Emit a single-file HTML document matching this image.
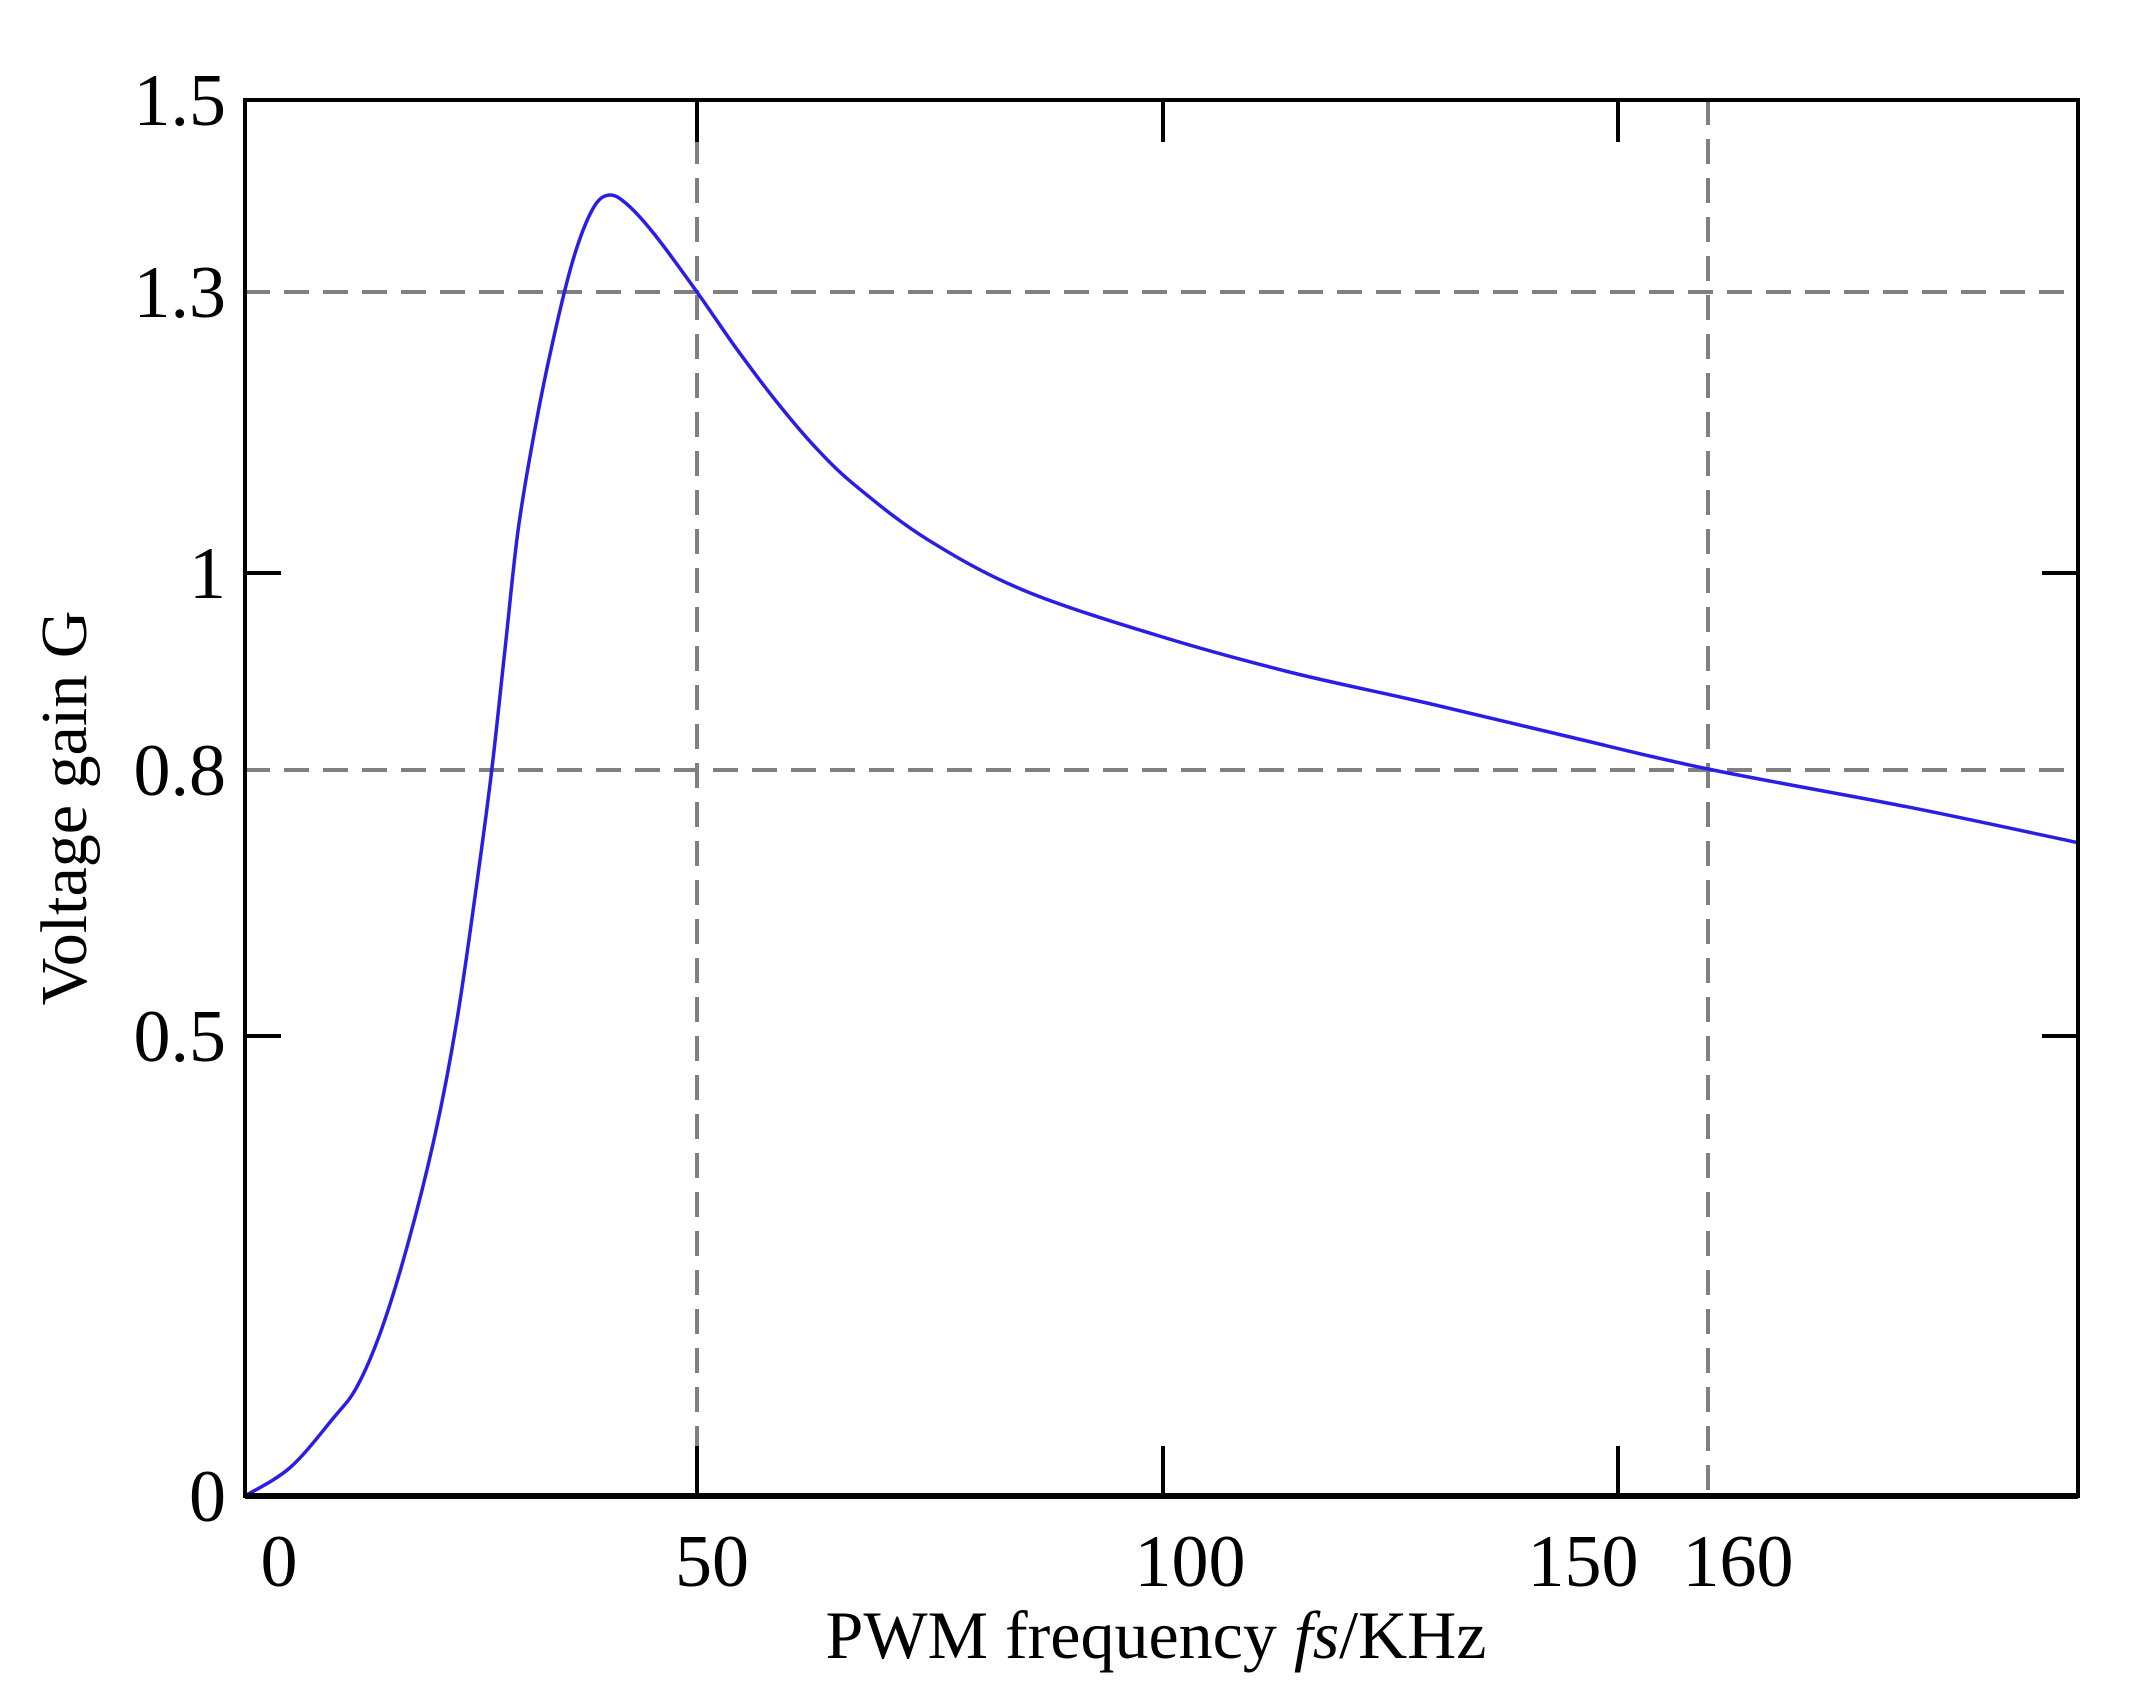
<!DOCTYPE html>
<html><head><meta charset="utf-8"><style>
html,body{margin:0;padding:0;background:#fff;}
svg{display:block;}
text{font-family:"Liberation Serif",serif;fill:#000;}
</style></head><body>
<svg id="chart" width="2136" height="1704" viewBox="0 0 2136 1704" xmlns="http://www.w3.org/2000/svg"></svg>
<script>
const freqs = [0,5.0,9.8,12.4,15.1,18.1,21.1,23.4,25.4,27.2,28.7,30.2,32.0,34.0,36.3,38.5,40.3,42.3,45.3,50,54.2,58.6,63.0,67.4,74.7,84.9,99.6,114.1,129.0,144.5,160,182.3,201];
const gains = [0,0.031,0.085,0.119,0.181,0.277,0.396,0.515,0.654,0.792,0.917,1.045,1.15,1.245,1.334,1.387,1.401,1.391,1.36,1.3,1.240,1.182,1.131,1.090,1.036,0.983,0.936,0.899,0.868,0.834,0.801,0.758,0.718];
const xTicks = [0,50,100,150,160];
const xTickLabels = ["0","50","100","150","160"];
const yTicks = [0,0.5,0.8,1,1.3,1.5];
const yTickLabels = ["0","0.5","0.8","1","1.3","1.5"];
const xRefLines = [50,160];
const yRefLines = [0.8,1.3];

const L=245,R=2078,T=100,B=1496;
const xk=[0,50,100,150,160,201], xp=[245,697,1163,1618,1708,2078];
const yk=[0,0.5,0.8,1,1.3,1.5], yp=[1496,1036,770,573,292,100];
function interp(v,ks,ps){
  let i=0; while(i<ks.length-2 && v>ks[i+1]) i++;
  return ps[i]+(v-ks[i])*(ps[i+1]-ps[i])/(ks[i+1]-ks[i]);
}
const X=v=>interp(v,xk,xp), Y=v=>interp(v,yk,yp);
const svg=document.getElementById('chart');
const NS='http://www.w3.org/2000/svg';
function mk(tag,attrs,parent){const e=document.createElementNS(NS,tag);for(const k in attrs)e.setAttribute(k,attrs[k]);(parent||svg).appendChild(e);return e;}

yRefLines.forEach(v=>{
  const l=mk('line',{x1:L,x2:R,y1:Y(v),y2:Y(v),stroke:'#808080','stroke-width':4,'stroke-dasharray':'25 14'});
  
  
});
xRefLines.forEach(v=>{
  const l=mk('line',{x1:X(v),x2:X(v),y1:T,y2:B,stroke:'#808080','stroke-width':4,'stroke-dasharray':'25 14'});
  
  
});

const pts=freqs.map((f,i)=>[X(f),Y(gains[i])]);
let d='M'+pts[0][0].toFixed(1)+' '+pts[0][1].toFixed(1);
for(let i=0;i<pts.length-1;i++){
  const p0=pts[Math.max(i-1,0)],p1=pts[i],p2=pts[i+1],p3=pts[Math.min(i+2,pts.length-1)];
  const c1=[p1[0]+(p2[0]-p0[0])/6,p1[1]+(p2[1]-p0[1])/6];
  const c2=[p2[0]-(p3[0]-p1[0])/6,p2[1]-(p3[1]-p1[1])/6];
  d+=' C'+c1[0].toFixed(1)+' '+c1[1].toFixed(1)+' '+c2[0].toFixed(1)+' '+c2[1].toFixed(1)+' '+p2[0].toFixed(1)+' '+p2[1].toFixed(1);
}
const curve=mk('path',{d:d,fill:'none',stroke:'#2a1ee6','stroke-width':3.5,'stroke-linejoin':'round'});



const fr=mk('rect',{x:L,y:T,width:R-L,height:B-T,fill:'none',stroke:'#000','stroke-width':4});


const bl=mk('line',{x1:L,x2:R,y1:B,y2:B,stroke:'#000','stroke-width':6});



[50,100,150].forEach(v=>{
  const t1=mk('line',{x1:X(v),x2:X(v),y1:B,y2:B-50,stroke:'#000','stroke-width':4});
  
  
  const t2=mk('line',{x1:X(v),x2:X(v),y1:T,y2:T+42,stroke:'#000','stroke-width':4});
  
  
});
[1,0.5].forEach(v=>{
  const t1=mk('line',{x1:L,x2:L+36,y1:Y(v),y2:Y(v),stroke:'#000','stroke-width':4});
  
  
  const t2=mk('line',{x1:R,x2:R-36,y1:Y(v),y2:Y(v),stroke:'#000','stroke-width':4});
  
  
});

xTicks.forEach((v,i)=>{
  const off = v===0?34:(v===50?15:(v===100?27:(v===150?-35:30)));
  const t=mk('text',{x:X(v)+off,y:1586,'font-size':74,'text-anchor':'middle'});
  t.textContent=xTickLabels[i];
  
  
});
yTicks.forEach((v,i)=>{
  const t=mk('text',{x:226,y:Y(v)+25,'font-size':74,'text-anchor':'end'});
  t.textContent=yTickLabels[i];
  
  
});
const xt=mk('text',{x:1156,y:1658,'font-size':68,'text-anchor':'middle'});
xt.innerHTML='PWM frequency <tspan font-style="italic">fs</tspan>/KHz';


const yt=mk('text',{x:0,y:0,'font-size':66,'text-anchor':'middle',transform:'translate(86,808) rotate(-90)'});
yt.textContent='Voltage gain G';


</script>
</body></html>
